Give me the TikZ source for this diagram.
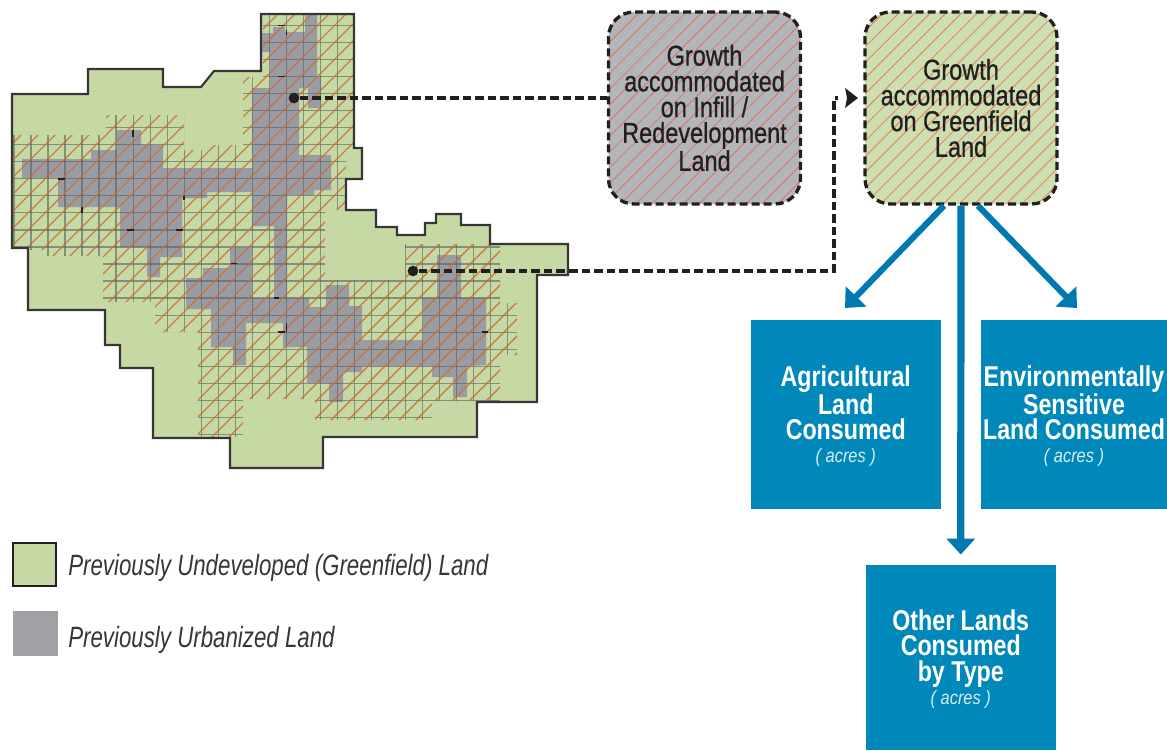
\documentclass[tikz,border=0pt]{standalone}
\usepackage{fontspec}
\setmainfont{Liberation Sans}
\newfontfamily\growthfont{Liberation Sans}[FakeStretch=0.82,FakeBold=0.7]
\newfontfamily\bluefont{Liberation Sans Bold}[FakeStretch=0.81]
\newfontfamily\acresfont{Liberation Sans Italic}[FakeStretch=0.85]
\newfontfamily\legendfont{Liberation Sans Italic}[FakeStretch=0.76]
\usetikzlibrary{arrows.meta,calc}
\definecolor{landgreen}{HTML}{C6D8A4}
\definecolor{urbangray}{HTML}{9A9BA3}
\definecolor{legendgray}{HTML}{A0A1A5}
\definecolor{inkdark}{HTML}{231F20}
\definecolor{boxblue}{HTML}{0088BB}
\definecolor{arrowblue}{HTML}{0079B1}
\definecolor{hatchmap}{HTML}{C86F38}
\definecolor{gridmap}{HTML}{56625C}
\definecolor{hatchbox}{HTML}{E2694A}
\definecolor{boxgray}{HTML}{B3B5B8}
\definecolor{boxgreen}{HTML}{CFDEB0}
\def\landpath{(12,94) -- (88,94) -- (88,69) -- (163,69) -- (163,87) -- (201,87) -- (214,71) -- (261,71) -- (261,14) -- (354,14) -- (354,148) -- (362,148) -- (362,179) -- (346,179) -- (346,210) -- (376,210) -- (376,227) -- (397,227) -- (397,235) -- (425,235) -- (425,223) -- (436,223) -- (436,214) -- (461,214) -- (461,225) -- (490,225) -- (490,244) -- (568,244) -- (568,275) -- (537,275) -- (537,402) -- (477,402) -- (477,437) -- (323,437) -- (323,468) -- (230,468) -- (230,438) -- (153,438) -- (153,368) -- (120,368) -- (120,345) -- (105,345) -- (105,310) -- (28,310) -- (28,248) -- (12,248) -- cycle}
\def\gridpath{(12,135) -- (106,135) -- (106,115) -- (184,115) -- (184,150) -- (203,150) -- (203,145) -- (243,145) -- (243,77) -- (263,77) -- (263,14) -- (354,14) -- (354,150) -- (346,150) -- (346,210) -- (325,210) -- (325,280) -- (405,280) -- (405,244) -- (500,244) -- (500,303) -- (517,303) -- (517,355) -- (500,355) -- (500,401) -- (432,401) -- (432,420) -- (315,420) -- (315,399) -- (243,399) -- (243,437) -- (198,437) -- (198,332) -- (155,332) -- (155,302) -- (103,302) -- (103,256) -- (45,256) -- (45,250) -- (12,250) -- cycle}
\def\urbanpath{(317,14) -- (317,77) -- (321,77) -- (321,108) -- (308,108) -- (308,88) -- (299,88) -- (299,155) -- (331,155) -- (331,190) -- (314,190) -- (314,195) -- (287,195) -- (287,298) -- (309,298) -- (309,307) -- (326,307) -- (326,285) -- (349,285) -- (349,306) -- (362,306) -- (362,340) -- (423,340) -- (423,298) -- (437,298) -- (437,255) -- (461,255) -- (461,298) -- (486,298) -- (486,365) -- (467,366) -- (467,397) -- (453,397) -- (453,377) -- (432,377) -- (432,366) -- (362,366) -- (362,372) -- (343,372) -- (343,402) -- (329,402) -- (329,383) -- (307,383) -- (307,347) -- (283,347) -- (283,323) -- (246,323) -- (246,365) -- (233,365) -- (233,347) -- (211,347) -- (211,309) -- (186,309) -- (186,278) -- (203,278) -- (203,268) -- (230,268) -- (230,248) -- (252,248) -- (252,298) -- (274,298) -- (274,226) -- (252,226) -- (252,192) -- (207,192) -- (207,198) -- (182,198) -- (182,257) -- (160,257) -- (160,277) -- (147,277) -- (147,247) -- (120,247) -- (120,207) -- (58,207) -- (58,178) -- (22,178) -- (22,159) -- (91,159) -- (91,150) -- (117,150) -- (117,130) -- (141,130) -- (141,145) -- (163,145) -- (163,168) -- (252,168) -- (252,88) -- (270,88) -- (270,52) -- (262,52) -- (262,33) -- (273,33) -- (273,27) -- (285,27) -- (285,32) -- (305,32) -- (305,14) -- cycle}
\tikzset{
  x=0.75pt,y=-0.75pt,
  landarea/.style={fill=landgreen},
  landborder/.style={draw=inkdark!90,line width=1.6pt,line join=miter},
  maphatch/.style={draw=hatchmap,line width=1.05pt,opacity=0.85},
  mapgrid/.style={draw=gridmap,line width=0.95pt,opacity=0.6},
  gridtick/.style={draw=inkdark,line width=1.1pt},
  dotnode/.style={circle,fill=inkdark,inner sep=0pt,minimum size=8pt},
  dashlink/.style={draw=inkdark,line width=2.5pt,dash pattern=on 6.4pt off 3pt},
  growthbox/.style={draw=inkdark,line width=2.5pt,dash pattern=on 6pt off 3pt,rounded corners=19pt,
    minimum width=144pt,minimum height=144pt,inner sep=0pt,align=center,text=inkdark,
    font=\fontsize{21.5}{19.3}\growthfont,
    path picture={
      \foreach \k in {-45,...,45}{\draw[solid,draw=hatchbox,line width=0.6pt,opacity=0.8] ({\k*15.7-500},500) -- ({\k*15.7+500},-500);}
      }},
  bluebox/.style={fill=boxblue,inner sep=0pt,align=center,text=white,
    font=\fontsize{21.5}{19.3}\bluefont},
  bluearrow/.style={draw=arrowblue,line width=4.6pt,-{Triangle[length=12pt,width=21pt]}},
  legendtext/.style={anchor=west,text=inkdark!90,inner sep=0pt,font=\fontsize{22}{24}\legendfont},
}
\newcommand{\acresline}{{\fontsize{14.5}{14.5}\acresfont\color{white!85!boxblue} ( acres )}}
\newcommand{\toppad}{\rule{0pt}{18pt}}
\begin{document}
\begin{tikzpicture}
\useasboundingbox (0,0) rectangle (1167,750);
% map
\fill[landarea] \landpath;
\fill[urbangray] \urbanpath;
\begin{scope}
  \clip \landpath;
  \clip \gridpath;
  \foreach \k in {0,...,30}{\draw[mapgrid] ({14+17.02*\k},10) -- ({14+17.02*\k},470);}
  \foreach \k in {0,...,24}{\draw[mapgrid] (5,{25.3+17.05*\k}) -- (575,{25.3+17.05*\k});}
  \foreach \k in {0,...,60}{\draw[maphatch] ({3+17*\k-480},480) -- ({3+17*\k+20},-20);}
\end{scope}
\draw[gridtick] (278,25.3) -- (285,25.3) (286.3,30) -- (286.3,35) (278,76.5) -- (285,76.5) (133,130) -- (133,137)
  (58,179) -- (65,179) (82,207) -- (82,213) (127,230) -- (134,230) (176,230) -- (183,230) (184,196) -- (184,200)
  (231,263.5) -- (237,263.5) (278,332) -- (285,332) (286.3,323) -- (286.3,332) (482,332) -- (488,332) (274,298) -- (279,298);
\draw[landborder] \landpath;
% growth boxes
\node[growthbox,fill=boxgray] (infill) at (704.5,108) {Growth\\accommodated\\on Infill /\\Redevelopment\\Land};
\node[growthbox,fill=boxgreen] (green) at (961,108) {Growth\\accommodated\\on Greenfield\\Land};
% result boxes
\node[bluebox,minimum width=142.5pt,minimum height=142pt] (agri) at (845.75,414.5) {\toppad Agricultural\\Land\\Consumed\\[-2pt]\acresline};
\node[bluebox,minimum width=139.5pt,minimum height=142pt] (envi) at (1074,414.5) {\toppad Environmentally\\Sensitive\\Land Consumed\\[-2pt]\acresline};
\node[bluebox,minimum width=142.5pt,minimum height=139pt] (other) at (960.75,657.5) {\toppad Other Lands\\Consumed\\by Type\\[-2pt]\acresline};
% connectors
\node[dotnode] (dota) at (294,98) {};
\node[dotnode] (dotb) at (413,271) {};
\coordinate (bend) at (834,271);
\coordinate (tipend) at (858,98);
\draw[dashlink] (dota) -- (infill.west |- dota);
\draw[dashlink] (dotb) -- (bend) -- (bend |- tipend) -- ([xshift=-15pt]tipend);
\fill[inkdark] (tipend) -- (845,88) -- (847,98) -- (845,108) -- cycle;
\path (green.south) ++(-17,0) coordinate (startl) ++(34,0) coordinate (startr);
\coordinate (tipl) at (845,308);
\coordinate (tipr) at (1077,308);
\draw[bluearrow] (startl) -- (tipl);
\draw[bluearrow] (startr) -- (tipr);
\draw[bluearrow,line width=5.4pt] (green.south) -- ([yshift=7.5pt]other.north);
% legend
\node[fill=landgreen,draw=inkdark,line width=1.6pt,minimum size=32.5pt,inner sep=0pt] (keygreen) at (34.5,564.5) {};
\node[fill=legendgray,minimum size=34pt,inner sep=0pt] (keygray) at (35.5,633.5) {};
\node[legendtext] (labelgreen) at (68,567.5) {Previously Undeveloped (Greenfield) Land};
\node[legendtext] (labelgray) at (68,639.5) {Previously Urbanized Land};
\end{tikzpicture}
\end{document}
